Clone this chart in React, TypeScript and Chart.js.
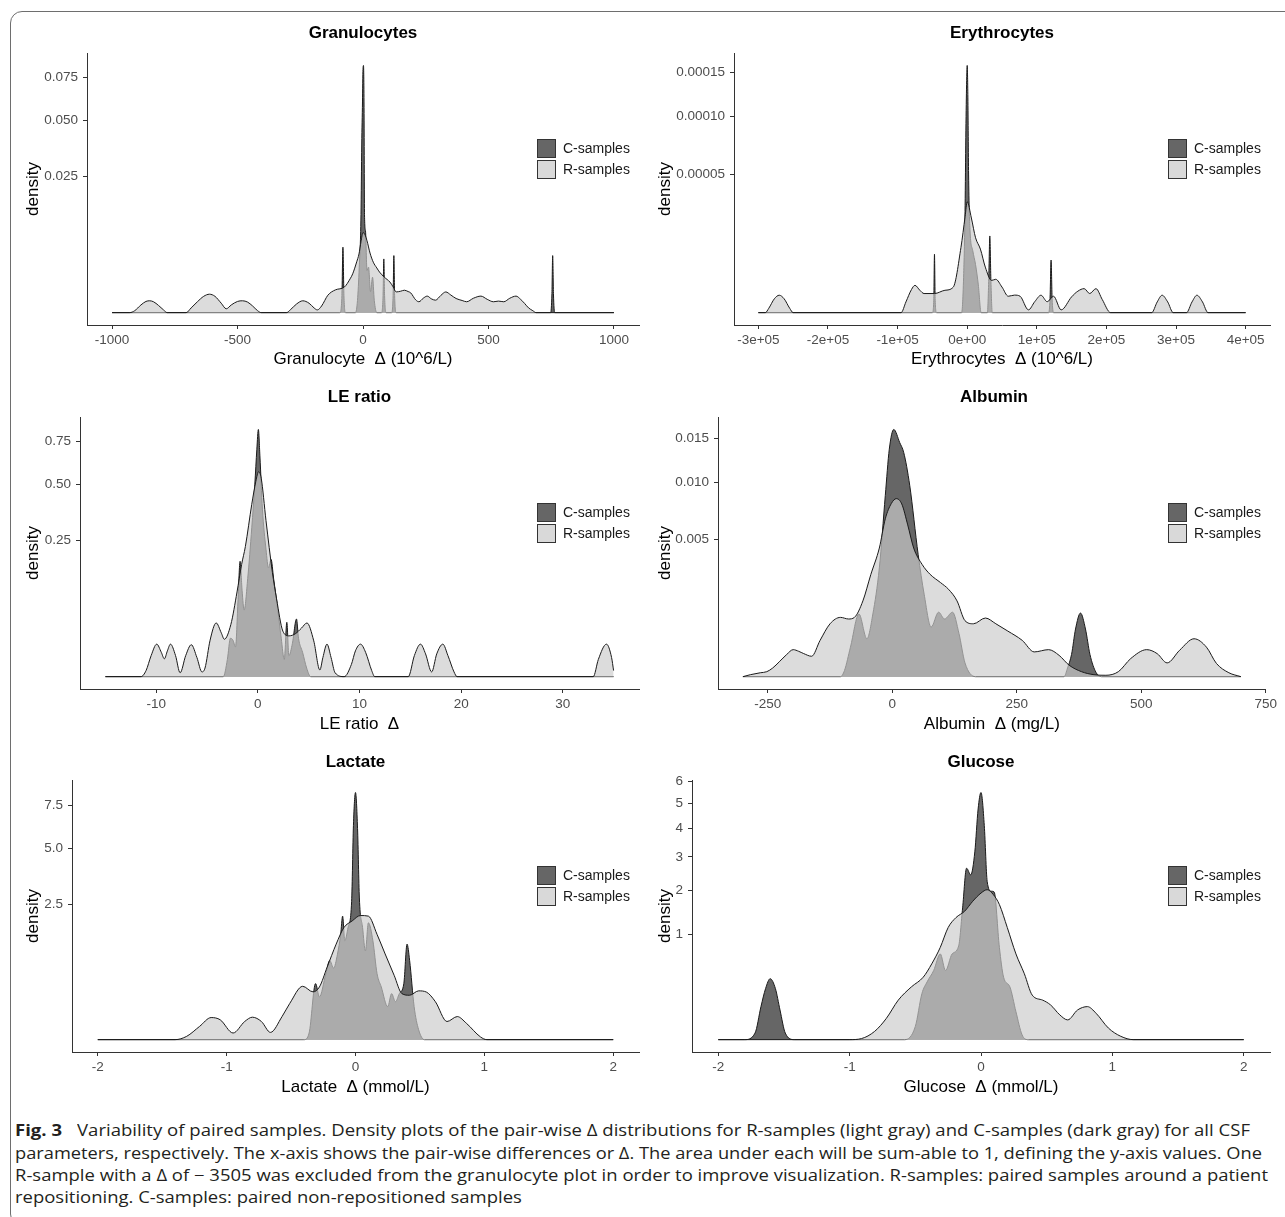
import React, { useEffect, useLayoutEffect, useRef } from 'react';
import { Chart, registerables, LinearScale } from 'chart.js';

// ---------- custom square-root scale (ggplot scale_y_sqrt) ----------
class SqrtScale extends LinearScale {
  static id = 'sqrt';
  static defaults = {};
  getPixelForValue(value: number) {
    const o: any = this.options;
    const s = value < 0 ? -Math.sqrt(-value) : Math.sqrt(value);
    return this.getPixelForDecimal((s - o.sMin) / (o.sMax - o.sMin));
  }
  getValueForPixel(pixel: number) {
    const o: any = this.options;
    const s = o.sMin + this.getDecimalForPixel(pixel) * (o.sMax - o.sMin);
    return s < 0 ? -s * s : s * s;
  }
}
Chart.register(...registerables, SqrtScale);

type Pair = [number, number];

// ---------- data: [delta, density] ----------
const granR: Pair[] = [
  [-1000, 0], [-930, 0], [-910, 0.000005], [-885, 0.00008], [-865, 0.00017], [-850, 0.00019], [-835, 0.00016],
  [-815, 0.00007], [-795, 0.00001], [-780, 0], [-705, 0], [-685, 0.00003], [-660, 0.00016], [-635, 0.00036],
  [-612, 0.00046], [-590, 0.00036], [-565, 0.00012], [-545, 0.00002], [-525, 0.00008], [-500, 0.00017],
  [-480, 0.00019], [-460, 0.00015], [-440, 0.00006], [-420, 0.000005], [-405, 0], [-305, 0], [-290, 0.00001],
  [-265, 0.0001], [-240, 0.00019], [-215, 0.00012], [-195, 0.00003], [-182, 0.00001], [-165, 0.00006],
  [-140, 0.00041], [-110, 0.0007], [-74, 0.00089], [-50, 0.0016], [-41, 0.00204], [-25, 0.0035], [-16, 0.00465],
  [-8, 0.0068], [0, 0.00867], [8, 0.0082], [16, 0.00698], [28, 0.0048], [41, 0.00344], [55, 0.0027],
  [66, 0.00222], [85, 0.0017], [107, 0.00127], [120, 0.0009], [132, 0.00058], [150, 0.00062], [165, 0.00068],
  [180, 0.0006], [190, 0.00053], [210, 0.00022], [223, 0.00016], [240, 0.00028], [256, 0.00037], [272, 0.00026],
  [289, 0.00021], [310, 0.0004], [330, 0.00058], [350, 0.00042], [371, 0.00027], [395, 0.0002], [413, 0.00016],
  [440, 0.00028], [470, 0.00037], [495, 0.00024], [520, 0.00016], [540, 0.00018], [561, 0.00016], [585, 0.00028],
  [610, 0.00037], [628, 0.00024], [644, 0.000115], [660, 0.00003], [677, 0.000005], [690, 0], [1000, 0],
];
const granC: Pair[] = [
  [-1000, 0], [-92, 0], [-84, 0.0004], [-80, 0.0058], [-76, 0.0004], [-70, 0], [-30, 0], [-22, 0.0002],
  [-15, 0.0028], [-8, 0.013], [-5, 0.038], [-2, 0.06], [0, 0.08], [2, 0.0826], [4, 0.06], [6, 0.013],
  [10, 0.009], [16, 0.0024], [22, 0.0028], [30, 0.0006], [38, 0.0017], [45, 0.0002], [55, 0], [74, 0],
  [80, 0.0004], [83, 0.0039], [86, 0.0004], [92, 0], [114, 0], [120, 0.0004], [123, 0.0044], [126, 0.0004],
  [132, 0], [748, 0], [753, 0.0005], [756, 0.0044], [759, 0.0005], [764, 0], [1000, 0],
];

const eryR: Pair[] = [
  [-300000, 0], [-290000, 0], [-285000, 0.00000005], [-277000, 0.0000005], [-270000, 0.00000079],
  [-263000, 0.0000005], [-255000, 0.00000005], [-250000, 0], [-95000, 0], [-88000, 0.0000003],
  [-80000, 0.0000014], [-75000, 0.00000194], [-68000, 0.0000013], [-62000, 0.00000095], [-47000, 0.00000095],
  [-32000, 0.0000013], [-20000, 0.0000017], [-9000, 0.000011], [-3000, 0.000024], [0, 0.000032],
  [6000, 0.0000233], [12000, 0.0000146], [19000, 0.0000105], [26000, 0.0000054], [35000, 0.0000027],
  [41000, 0.0000029], [50000, 0.0000017], [59000, 0.0000007], [68000, 0.0000008], [76000, 0.0000007],
  [88000, 0.00000002], [97000, 0.00000031], [106000, 0.00000079], [115000, 0.00000031], [124000, 0.0000007],
  [135000, 0.00000002], [150000, 0.00000065], [159000, 0.0000012], [168000, 0.0000015], [176000, 0.00000095],
  [185000, 0.0000015], [194000, 0.00000045], [206000, 0], [265000, 0], [273000, 0.0000003],
  [280000, 0.00000079], [288000, 0.0000003], [296000, 0], [315000, 0], [323000, 0.0000003],
  [330000, 0.00000079], [338000, 0.0000003], [346000, 0], [400000, 0],
];
const eryC: Pair[] = [
  [-300000, 0], [-50000, 0], [-48000, 0.0000004], [-47000, 0.0000089], [-46000, 0.0000004], [-44000, 0],
  [-8000, 0], [-5000, 0.000004], [-3000, 0.00003], [-2000, 0.00008], [-1000, 0.00013], [0, 0.000159],
  [1000, 0.00012], [2000, 0.00005], [4000, 0.000018], [8000, 0.00001], [12000, 0.000006], [16000, 0.000002],
  [20000, 0], [29000, 0], [31000, 0.000003], [32500, 0.0000153], [34000, 0.000003], [36000, 0],
  [117000, 0], [119000, 0.0000005], [120500, 0.0000072], [122000, 0.0000005], [124000, 0], [400000, 0],
];

const leR: Pair[] = [
  [-15, 0], [-11.5, 0], [-11, 0.0005], [-10.5, 0.006], [-9.95, 0.0143], [-9.5, 0.008], [-9.2, 0.0043],
  [-8.9, 0.009], [-8.6, 0.0143], [-8.1, 0.006], [-7.65, 0.0002], [-7.1, 0.006], [-6.55, 0.0138], [-6, 0.005],
  [-5.5, 0.0003], [-5.2, 0.001], [-4.7, 0.018], [-4.1, 0.039], [-3.6, 0.026], [-3.3, 0.0189], [-2.66, 0.0367],
  [-2.05, 0.097], [-1.6, 0.17], [-1.23, 0.229], [-0.6, 0.402], [-0.2, 0.516], [0.08, 0.569], [0.33, 0.533],
  [0.8, 0.33], [1.43, 0.147], [1.84, 0.082], [2.46, 0.028], [3.07, 0.0225], [3.7, 0.025], [4.3, 0.032],
  [4.83, 0.039], [5.5, 0.0173], [6.1, 0.0006], [6.4, 0.005], [6.8, 0.0143], [7.2, 0.005], [7.6, 0.0002],
  [8.5, 0], [9.2, 0.002], [9.6, 0.009], [10.1, 0.0143], [10.6, 0.008], [11.2, 0.0005], [11.5, 0],
  [14.8, 0], [15.4, 0.006], [16, 0.0143], [16.5, 0.007], [17.1, 0.0003], [17.6, 0.007], [18.2, 0.0143],
  [18.7, 0.006], [19.3, 0.0003], [19.6, 0], [33, 0], [33.5, 0.004], [34.3, 0.0143], [34.8, 0.005], [35, 0.0005],
];
const leC: Pair[] = [
  [-15, 0], [-3.4, 0], [-3.0, 0.004], [-2.7, 0.02], [-2.45, 0.018], [-2.2, 0.012], [-1.95, 0.08],
  [-1.75, 0.18], [-1.55, 0.1], [-1.35, 0.06], [-1.0, 0.13], [-0.6, 0.3], [-0.3, 0.5], [-0.1, 0.7],
  [0.05, 0.827], [0.2, 0.66], [0.45, 0.38], [0.8, 0.22], [1.05, 0.16], [1.3, 0.186], [1.55, 0.13],
  [1.9, 0.07], [2.3, 0.02], [2.6, 0.004], [2.85, 0.04], [3.05, 0.006], [3.4, 0.015], [3.8, 0.045],
  [4.0, 0.02], [4.4, 0.008], [4.8, 0.001], [5.2, 0], [35, 0],
];

const albR: Pair[] = [
  [-300, 0], [-285, 0.000001], [-265, 0.000004], [-252, 0.0000065], [-240, 0.00002], [-227, 0.000058],
  [-212, 0.00013], [-199, 0.000193], [-188, 0.00017], [-178, 0.000141], [-162, 0.00011], [-145, 0.000348],
  [-125, 0.00074], [-104, 0.00093], [-88, 0.00088], [-76, 0.00093], [-59, 0.00152], [-43, 0.00277],
  [-26, 0.00438], [-14, 0.0066], [-2, 0.00793], [8, 0.00839], [19, 0.0079], [31, 0.0061], [43, 0.00438],
  [60, 0.00333], [76, 0.00277], [97, 0.00234], [113, 0.00202], [130, 0.00152], [146, 0.00083], [163, 0.00074],
  [187, 0.00091], [208, 0.00074], [232, 0.00055], [261, 0.000348], [285, 0.000162], [314, 0.000193],
  [335, 0.00012], [355, 0.000035], [380, 0.0000065], [405, 0.000001], [429, 0.0000005], [454, 0.0000065],
  [479, 0.000087], [511, 0.000193], [532, 0.00014], [552, 0.00005], [577, 0.000184], [606, 0.00038],
  [631, 0.00023], [651, 0.000046], [676, 0.000004], [700, 0],
];
const albC: Pair[] = [
  [-300, 0], [-104, 0], [-96, 0.00001], [-84, 0.00023], [-67, 0.00104], [-51, 0.00038], [-39, 0.00104],
  [-26, 0.00313], [-14, 0.0087], [-6, 0.0137], [3, 0.01618], [15, 0.0145], [23, 0.0133], [35, 0.0097],
  [52, 0.00394], [64, 0.0018], [78, 0.00065], [93, 0.0011], [105, 0.00088], [121, 0.0011], [134, 0.00049],
  [146, 0.00005], [167, 0], [345, 0], [352, 0.00002], [360, 0.00013], [368, 0.0006], [378, 0.00107],
  [388, 0.0006], [397, 0.00013], [409, 0.000005], [420, 0], [700, 0],
];

const lacR: Pair[] = [
  [-2, 0], [-1.4, 0], [-1.31, 0.0015], [-1.21, 0.024], [-1.12, 0.0668], [-1.05, 0.054], [-0.95, 0.006],
  [-0.86, 0.045], [-0.8, 0.069], [-0.73, 0.045], [-0.66, 0.0072], [-0.57, 0.073], [-0.51, 0.18], [-0.41, 0.39],
  [-0.33, 0.313], [-0.28, 0.38], [-0.22, 0.72], [-0.15, 1.25], [-0.09, 1.72], [-0.026, 1.93], [0.038, 2.11],
  [0.1, 2.09], [0.167, 1.52], [0.23, 1.006], [0.3, 0.566], [0.36, 0.29], [0.42, 0.27], [0.49, 0.326],
  [0.55, 0.31], [0.62, 0.197], [0.71, 0.045], [0.79, 0.073], [0.86, 0.037], [0.97, 0.001], [1.02, 0], [2, 0],
];
const lacC: Pair[] = [
  [-2, 0], [-0.4, 0], [-0.36, 0.006], [-0.31, 0.43], [-0.28, 0.25], [-0.23, 0.6], [-0.2, 0.86], [-0.17, 0.7],
  [-0.14, 1.0], [-0.115, 1.52], [-0.1, 2.09], [-0.083, 1.34], [-0.058, 1.72], [-0.03, 2.62], [-0.016, 6.29],
  [0, 8.37], [0.016, 6.1], [0.03, 2.75], [0.055, 1.72], [0.077, 1.08], [0.1, 1.87], [0.135, 1.34],
  [0.167, 0.6], [0.2, 0.38], [0.25, 0.149], [0.28, 0.29], [0.31, 0.197], [0.34, 0.29], [0.375, 0.43],
  [0.4, 1.25], [0.42, 0.86], [0.455, 0.149], [0.49, 0.0134], [0.535, 0], [2, 0],
];

const gluR: Pair[] = [
  [-2, 0], [-1.0, 0], [-0.91, 0.0001], [-0.81, 0.0061], [-0.72, 0.041], [-0.63, 0.14], [-0.53, 0.25],
  [-0.44, 0.35], [-0.375, 0.516], [-0.31, 0.765], [-0.25, 1.13], [-0.19, 1.34], [-0.125, 1.48],
  [-0.063, 1.72], [0, 1.93], [0.047, 2.02], [0.094, 1.89], [0.14, 1.64], [0.2, 1.13], [0.266, 0.66],
  [0.33, 0.39], [0.39, 0.178], [0.47, 0.14], [0.53, 0.108], [0.6, 0.055], [0.66, 0.035], [0.735, 0.079],
  [0.81, 0.098], [0.876, 0.0625], [0.97, 0.012], [1.064, 0.001], [1.16, 0], [2, 0],
];
const gluC: Pair[] = [
  [-2, 0], [-1.8, 0], [-1.72, 0.0039], [-1.675, 0.098], [-1.64, 0.234], [-1.605, 0.334], [-1.565, 0.234],
  [-1.53, 0.079], [-1.49, 0.0039], [-1.42, 0], [-0.58, 0], [-0.5, 0.0156], [-0.45, 0.19], [-0.41, 0.3],
  [-0.36, 0.43], [-0.31, 0.66], [-0.27, 0.43], [-0.22, 0.66], [-0.17, 0.79], [-0.14, 1.56], [-0.11, 2.64],
  [-0.078, 2.44], [-0.047, 3.17], [-0.022, 4.78], [0, 5.49], [0.025, 4.12], [0.047, 2.25], [0.078, 1.98],
  [0.1, 1.96], [0.14, 0.765], [0.172, 0.35], [0.22, 0.25], [0.266, 0.07], [0.313, 0.002], [0.36, 0], [2, 0],
];

// ---------- tick values & labels ----------
const granXTicks = [-1000, -500, 0, 500, 1000];
const granXLabels = ['-1000', '-500', '0', '500', '1000'];
const granYTicks = [0.025, 0.05, 0.075];
const granYLabels = ['0.025', '0.050', '0.075'];

const eryXTicks = [-300000, -200000, -100000, 0, 100000, 200000, 300000, 400000];
const eryXLabels = ['-3e+05', '-2e+05', '-1e+05', '0e+00', '1e+05', '2e+05', '3e+05', '4e+05'];
const eryYTicks = [0.00005, 0.0001, 0.00015];
const eryYLabels = ['0.00005', '0.00010', '0.00015'];

const leXTicks = [-10, 0, 10, 20, 30];
const leXLabels = ['-10', '0', '10', '20', '30'];
const leYTicks = [0.25, 0.5, 0.75];
const leYLabels = ['0.25', '0.50', '0.75'];

const albXTicks = [-250, 0, 250, 500, 750];
const albXLabels = ['-250', '0', '250', '500', '750'];
const albYTicks = [0.005, 0.01, 0.015];
const albYLabels = ['0.005', '0.010', '0.015'];

const lacXTicks = [-2, -1, 0, 1, 2];
const lacXLabels = ['-2', '-1', '0', '1', '2'];
const lacYTicks = [2.5, 5, 7.5];
const lacYLabels = ['2.5', '5.0', '7.5'];

const gluXTicks = [-2, -1, 0, 1, 2];
const gluXLabels = ['-2', '-1', '0', '1', '2'];
const gluYTicks = [1, 2, 3, 4, 5, 6];
const gluYLabels = ['1', '2', '3', '4', '5', '6'];

const legendLabels = ['C-samples', 'R-samples'];
const yTitle = 'density';

const captionBold = 'Fig. 3';
const captionLines = [
  'Variability of paired samples. Density plots of the pair-wise \u0394 distributions for R-samples (light gray) and C-samples (dark gray) for all CSF',
  'parameters, respectively. The x-axis shows the pair-wise differences or \u0394. The area under each will be sum-able to 1, defining the y-axis values. One',
  'R-sample with a \u0394 of \u2212 3505 was excluded from the granulocyte plot in order to improve visualization. R-samples: paired samples around a patient',
  'repositioning. C-samples: paired non-repositioned samples',
];

// ---------- layout / style ----------
const AX_FONT = "'Liberation Sans', Arial, sans-serif";
const CAP_FONT = "'Open Sans', 'Noto Sans', sans-serif";
const C_FILL = '#666666';
const R_FILL = 'rgba(203,203,203,0.68)';
const LINE = '#1a1a1a';
const AXIS = '#333333';
const PAD_TOP = 10;
const PAD_RIGHT = 10;

const ROWS = [
  { plotTop: 50, plotBottom: 325, titleY: 33, xTitleY: 360 },
  { plotTop: 414, plotBottom: 689, titleY: 397, xTitleY: 725 },
  { plotTop: 777, plotBottom: 1052, titleY: 762, xTitleY: 1088 },
];
const COLS = [
  { canvasLeft: 23, plotRight: 639 },
  { canvasLeft: 655, plotRight: 1270 },
];

interface Spec {
  title: string; xTitle: string; r: Pair[]; c: Pair[];
  xTicks: number[]; xLabels: string[]; yTicks: number[]; yLabels: string[];
  row: number; col: number; plotLeft: number;
}

const PANELS: Spec[] = [
  { title: 'Granulocytes', xTitle: 'Granulocyte  \u0394 (10^6/L)', r: granR, c: granC, xTicks: granXTicks, xLabels: granXLabels, yTicks: granYTicks, yLabels: granYLabels, row: 0, col: 0, plotLeft: 87 },
  { title: 'Erythrocytes', xTitle: 'Erythrocytes  \u0394 (10^6/L)', r: eryR, c: eryC, xTicks: eryXTicks, xLabels: eryXLabels, yTicks: eryYTicks, yLabels: eryYLabels, row: 0, col: 1, plotLeft: 734 },
  { title: 'LE ratio', xTitle: 'LE ratio  \u0394', r: leR, c: leC, xTicks: leXTicks, xLabels: leXLabels, yTicks: leYTicks, yLabels: leYLabels, row: 1, col: 0, plotLeft: 80 },
  { title: 'Albumin', xTitle: 'Albumin  \u0394 (mg/L)', r: albR, c: albC, xTicks: albXTicks, xLabels: albXLabels, yTicks: albYTicks, yLabels: albYLabels, row: 1, col: 1, plotLeft: 718 },
  { title: 'Lactate', xTitle: 'Lactate  \u0394 (mmol/L)', r: lacR, c: lacC, xTicks: lacXTicks, xLabels: lacXLabels, yTicks: lacYTicks, yLabels: lacYLabels, row: 2, col: 0, plotLeft: 72 },
  { title: 'Glucose', xTitle: 'Glucose  \u0394 (mmol/L)', r: gluR, c: gluC, xTicks: gluXTicks, xLabels: gluXLabels, yTicks: gluYTicks, yLabels: gluYLabels, row: 2, col: 1, plotLeft: 692 },
];

function Panel({ spec }: { spec: Spec }) {
  const ref = useRef<HTMLCanvasElement>(null);
  const row = ROWS[spec.row];
  const col = COLS[spec.col];
  const canvasTop = row.plotTop - PAD_TOP;
  const yW = spec.plotLeft - col.canvasLeft;
  const xH = Math.round(row.xTitleY + 10 - row.plotBottom);
  const width = Math.round(col.plotRight - col.canvasLeft + PAD_RIGHT);
  const height = PAD_TOP + (row.plotBottom - row.plotTop) + xH;

  useEffect(() => {
    const all = [...spec.r, ...spec.c];
    const xs = all.map((p) => p[0]);
    const lo = Math.min(...xs);
    const hi = Math.max(...xs);
    const ex = (hi - lo) * 0.05;
    const peak = Math.sqrt(Math.max(...all.map((p) => p[1])));
    const tickFont = { family: AX_FONT, size: 13.5 };
    const titleFont = { family: AX_FONT, size: 17 };
    const common = {
      borderColor: LINE, borderWidth: 1, fill: 'origin', pointRadius: 0,
      cubicInterpolationMode: 'monotone',
    };
    const chart = new Chart(ref.current as HTMLCanvasElement, {
      type: 'line',
      data: {
        datasets: [
          { ...common, label: legendLabels[1], data: spec.r.map(([x, y]) => ({ x, y })), backgroundColor: R_FILL, order: 0 },
          { ...common, label: legendLabels[0], data: spec.c.map(([x, y]) => ({ x, y })), backgroundColor: C_FILL, order: 1 },
        ],
      } as any,
      options: {
        animation: false,
        responsive: false,
        events: [],
        layout: { padding: { top: PAD_TOP, right: PAD_RIGHT, left: 0, bottom: 0 } },
        plugins: { legend: { display: false }, tooltip: { enabled: false }, title: { display: false } },
        scales: {
          x: {
            type: 'linear', min: lo - ex, max: hi + ex,
            afterBuildTicks: (s: any) => { s.ticks = spec.xTicks.map((v) => ({ value: v })); },
            afterFit: (s: any) => { s.height = xH; },
            ticks: { autoSkip: false, maxRotation: 0, padding: 3, color: '#4d4d4d', font: tickFont,
              callback: (_v: any, i: number) => spec.xLabels[i] },
            grid: { display: true, drawOnChartArea: false, drawTicks: true, tickLength: 4, color: AXIS, lineWidth: 1 },
            border: { display: true, color: AXIS, width: 1 },
            title: { display: true, text: spec.xTitle, color: '#000', font: titleFont, padding: 0 },
          },
          y: {
            type: 'sqrt', sMin: -0.05 * peak, sMax: 1.05 * peak,
            afterBuildTicks: (s: any) => { s.ticks = spec.yTicks.map((v) => ({ value: v })); },
            afterFit: (s: any) => { s.width = yW; },
            ticks: { autoSkip: false, padding: 5, color: '#4d4d4d', font: tickFont,
              callback: (_v: any, i: number) => spec.yLabels[i] },
            grid: { display: true, drawOnChartArea: false, drawTicks: true, tickLength: 4, color: AXIS, lineWidth: 1 },
            border: { display: true, color: AXIS, width: 1 },
            title: { display: true, text: yTitle, color: '#000', font: titleFont, padding: 0 },
          },
        },
      } as any,
    });
    return () => chart.destroy();
  }, [spec]);

  const legendLeft = col.plotRight - 102;
  const legendTop = row.plotTop + 89;
  const fills = [C_FILL, '#d9d9d9'];

  return (
    <>
      <canvas
        ref={ref}
        width={width}
        height={height}
        style={{ position: 'absolute', left: col.canvasLeft, top: canvasTop, width, height }}
      />
      <div
        style={{
          position: 'absolute', left: spec.plotLeft, width: col.plotRight - spec.plotLeft,
          top: row.titleY - 10, height: 20, lineHeight: '20px', textAlign: 'center',
          fontFamily: AX_FONT, fontWeight: 700, fontSize: 17, color: '#000',
        }}
      >
        {spec.title}
      </div>
      {legendLabels.map((lab, i) => (
        <div key={lab} style={{ position: 'absolute', left: legendLeft, top: legendTop + i * 21, height: 19, display: 'flex', alignItems: 'center' }}>
          <div style={{ width: 17, height: 17, background: fills[i], border: '1px solid #333' }} />
          <span style={{ marginLeft: 7, fontFamily: AX_FONT, fontSize: 14, color: '#1a1a1a', whiteSpace: 'nowrap', lineHeight: '19px' }}>{lab}</span>
        </div>
      ))}
    </>
  );
}

// caption: lines fitted to the reference widths; the short last line reuses line 3's scale
const CAPTION_Y = [1130, 1153, 1175, 1197];
const CAPTION_LEFT = [77, 15, 15, 15];
const CAPTION_W = [1173, 1247, 1253, 0];

function Caption() {
  const boldRef = useRef<HTMLSpanElement>(null);
  const refs = useRef<(HTMLSpanElement | null)[]>([]);
  useLayoutEffect(() => {
    const els = refs.current;
    let lastScale = 1;
    els.forEach((el, i) => {
      if (!el) return;
      el.style.transform = 'none';
      const w = el.getBoundingClientRect().width;
      const target = CAPTION_W[i];
      const sc = target > 0 && w > 0 ? target / w : lastScale;
      if (target > 0) lastScale = sc;
      el.style.transform = `scaleX(${sc})`;
    });
    const b = boldRef.current;
    if (b) {
      b.style.transform = 'none';
      const w = b.getBoundingClientRect().width;
      if (w > 0) b.style.transform = `scaleX(${47 / w})`;
    }
  }, []);
  const base: React.CSSProperties = {
    position: 'absolute', whiteSpace: 'pre', display: 'inline-block', fontFamily: CAP_FONT,
    fontSize: 15.5, lineHeight: '20px', color: '#231f20', transformOrigin: '0 0',
  };
  return (
    <>
      <span ref={boldRef} style={{ ...base, left: 15, top: CAPTION_Y[0] - 10, fontWeight: 700 }}>{captionBold}</span>
      {captionLines.map((t, i) => (
        <span
          key={i}
          ref={(el) => { refs.current[i] = el; }}
          style={{ ...base, left: CAPTION_LEFT[i], top: CAPTION_Y[i] - 10 }}
        >
          {t}
        </span>
      ))}
    </>
  );
}

export default function App() {
  return (
    <div style={{ position: 'absolute', left: 0, top: 0, width: 1285, height: 1217, overflow: 'hidden', background: '#fff' }}>
      <div style={{ position: 'absolute', left: 10, top: 11, width: 1300, height: 1215, border: '1.5px solid #6e6e6e', borderRadius: 12, boxSizing: 'border-box' }} />
      {PANELS.map((p) => <Panel key={p.title} spec={p} />)}
      <Caption />
    </div>
  );
}
